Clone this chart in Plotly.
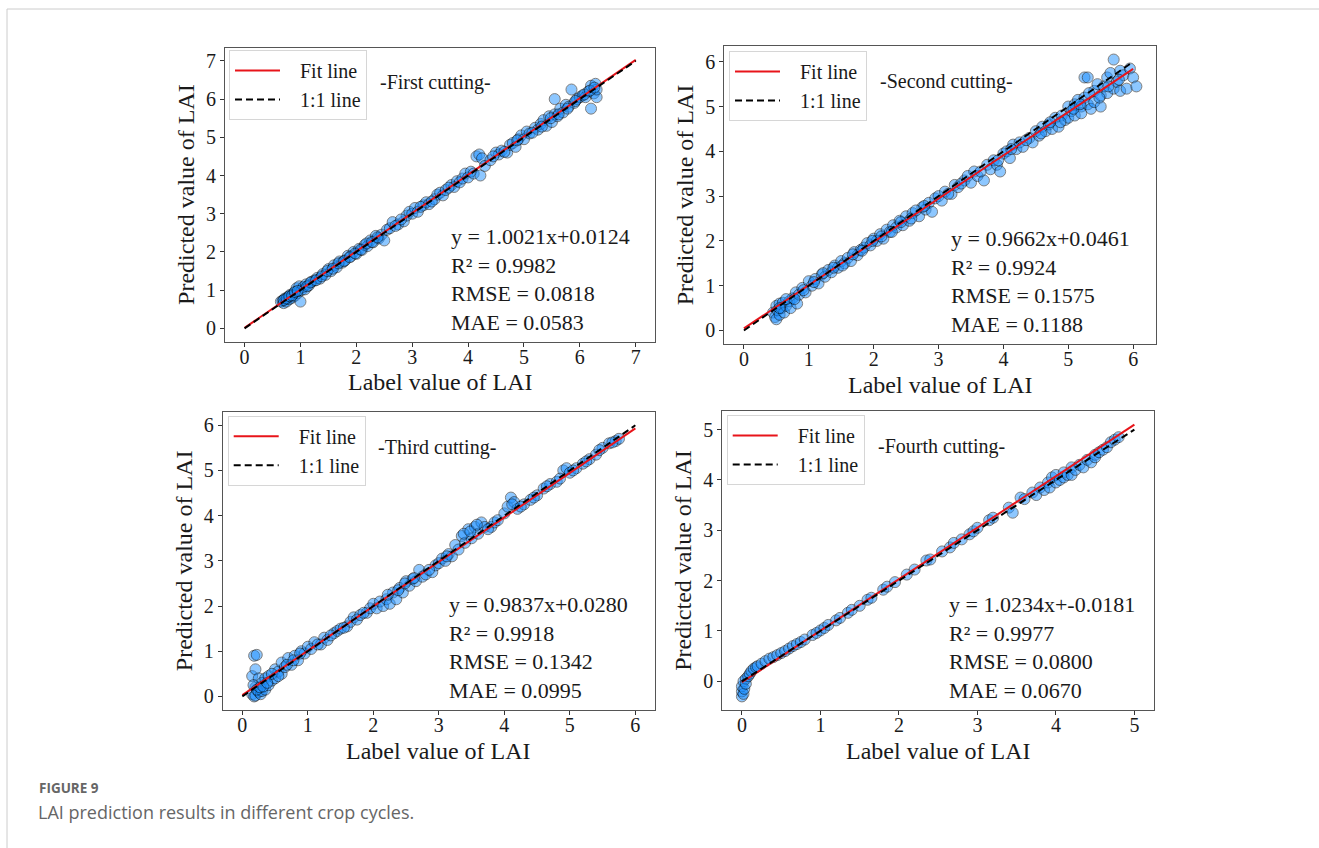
import plotly.graph_objects as go

W, H = 1319, 848

# ---------------- data ----------------
panel_titles = ["-First cutting-", "-Second cutting-", "-Third cutting-", "-Fourth cutting-"]
fit_slope = [1.0021, 0.9662, 0.9837, 1.0234]
fit_intercept = [0.0124, 0.0461, 0.0280, -0.0181]
r2_values = ["0.9982", "0.9924", "0.9918", "0.9977"]
rmse_values = ["0.0818", "0.1575", "0.1342", "0.0800"]
mae_values = ["0.0583", "0.1188", "0.0995", "0.0670"]
eq_texts = ["y = 1.0021x+0.0124", "y = 0.9662x+0.0461", "y = 0.9837x+0.0280", "y = 1.0234x+-0.0181"]
line_end = [7, 6, 6, 5]
x_ticks = [[0, 1, 2, 3, 4, 5, 6, 7], [0, 1, 2, 3, 4, 5, 6], [0, 1, 2, 3, 4, 5, 6], [0, 1, 2, 3, 4, 5]]
y_ticks = [[0, 1, 2, 3, 4, 5, 6, 7], [0, 1, 2, 3, 4, 5, 6], [0, 1, 2, 3, 4, 5, 6], [0, 1, 2, 3, 4, 5]]

label_1 = [0.65,0.68,0.70,0.72,0.75,0.78,0.80,0.82,0.85,0.88,0.90,0.93,0.95,0.98,1.00,1.02,1.05,1.08,1.10,1.15,
           1.20,1.25,1.30,1.35,1.40,1.45,1.50,1.55,1.60,1.65,1.70,1.75,1.80,1.85,1.90,1.95,2.00,2.05,2.10,2.15,
           2.20,2.25,2.30,2.35,2.40,2.45,2.50,2.55,2.60,2.65,2.75,2.85,2.90,2.95,3.00,3.05,3.10,3.20,3.25,3.30,
           3.40,3.45,3.50,3.55,3.60,3.70,3.75,3.80,3.85,3.90,3.95,4.00,4.05,4.10,4.15,4.20,4.22,4.25,4.30,4.40,
           4.50,4.55,4.60,4.70,4.75,4.80,4.85,4.90,4.95,5.00,5.05,5.10,5.20,5.25,5.30,5.35,5.40,5.45,5.50,5.55,
           5.55,5.60,5.65,5.70,5.75,5.80,5.85,5.90,5.95,6.00,6.05,6.10,6.15,6.20,6.20,6.25,6.28,6.30,6.30,
           0.70,0.75,0.80,0.85,0.90,0.95,1.12,1.18,1.28,1.38,1.48,1.58,1.68,1.78,1.88,1.98,2.08,2.18,2.28,2.38,
           2.70,2.80,3.15,3.35,3.65,4.45,4.65,4.88,5.15,5.32,5.48,5.62,5.78,5.92,6.08,6.18,6.26]
pred_1 = [0.70,0.72,0.66,0.78,0.70,0.82,0.76,0.88,0.80,0.92,0.85,1.05,0.92,1.10,0.70,1.00,1.08,1.02,1.15,1.12,
          1.22,1.25,1.32,1.30,1.42,1.40,1.55,1.50,1.65,1.60,1.75,1.72,1.78,1.90,1.88,2.00,1.95,2.08,2.05,2.18,
          2.15,2.30,2.25,2.42,2.35,2.45,2.30,2.58,2.62,2.78,2.72,2.80,2.95,3.05,3.00,3.15,3.05,3.22,3.30,3.25,
          3.38,3.50,3.55,3.48,3.62,3.75,3.70,3.85,3.82,3.92,4.05,3.95,4.10,4.05,4.50,4.55,4.00,4.45,4.25,4.40,
          4.60,4.55,4.65,4.60,4.80,4.85,4.75,4.95,5.05,4.95,5.15,5.10,5.25,5.20,5.35,5.45,5.30,5.55,5.40,5.60,
          6.00,5.55,5.75,5.65,5.85,5.80,6.25,5.90,6.00,6.05,6.10,6.05,6.20,5.75,6.35,6.15,6.40,6.05,6.25,
          0.74,0.78,0.84,0.86,0.95,0.98,1.10,1.20,1.26,1.36,1.50,1.56,1.70,1.76,1.86,1.96,2.06,2.22,2.26,2.38,
          2.68,2.85,3.18,3.32,3.68,4.50,4.62,4.92,5.12,5.28,5.50,5.60,5.75,5.95,6.12,6.22,6.30]

label_2 = [0.45,0.48,0.50,0.50,0.52,0.55,0.55,0.58,0.60,0.62,0.65,0.70,0.72,0.75,0.80,0.82,0.85,0.90,0.95,1.00,
           1.05,1.10,1.15,1.20,1.25,1.30,1.35,1.40,1.45,1.50,1.55,1.60,1.65,1.70,1.75,1.80,1.85,1.90,1.95,2.00,
           2.05,2.10,2.15,2.20,2.25,2.30,2.35,2.40,2.45,2.50,2.55,2.60,2.70,2.75,2.80,2.85,2.90,2.95,3.00,3.05,
           3.10,3.20,3.25,3.30,3.40,3.45,3.50,3.55,3.60,3.70,3.75,3.80,3.85,3.90,3.95,4.00,4.05,4.10,4.15,4.20,
           4.25,4.30,4.40,4.45,4.50,4.55,4.60,4.65,4.70,4.75,4.80,4.85,4.90,4.95,5.00,5.00,5.05,5.10,5.10,5.15,
           5.20,5.20,5.25,5.25,5.30,5.30,5.35,5.40,5.40,5.45,5.50,5.50,5.55,5.60,5.60,5.65,5.70,5.70,5.75,5.80,
           5.80,5.85,5.90,5.95,6.00,6.05,
           0.55,0.65,0.78,0.92,1.08,1.22,1.38,1.52,1.68,1.82,1.98,2.12,2.28,2.42,2.58,2.65,2.78,3.15,3.35,3.65,
           3.92,4.12,4.35,4.58,4.72,4.88,5.08,5.18,5.32,5.48,5.62,5.78]
pred_2 = [0.40,0.30,0.55,0.25,0.45,0.60,0.35,0.50,0.62,0.40,0.55,0.65,0.50,0.72,0.85,0.60,0.80,0.95,0.85,1.10,
          1.00,1.15,1.05,1.25,1.20,1.35,1.30,1.45,1.40,1.55,1.50,1.62,1.55,1.75,1.68,1.80,1.85,1.95,1.90,2.05,
          2.00,2.15,2.05,2.25,2.20,2.35,2.30,2.45,2.35,2.55,2.45,2.62,2.55,2.75,2.70,2.85,2.65,2.95,3.00,2.90,
          3.10,3.05,3.25,3.20,3.35,3.45,3.30,3.55,3.45,3.35,3.70,3.60,3.80,3.70,3.55,3.95,4.00,3.85,4.15,4.05,
          4.20,4.10,4.30,4.20,4.45,4.35,4.55,4.45,4.60,4.50,4.75,4.55,4.80,4.70,5.00,4.75,4.90,5.05,4.80,5.15,
          5.00,4.85,5.65,5.20,5.05,5.65,4.95,5.35,5.10,5.50,5.25,5.00,5.45,5.65,5.30,5.75,6.05,5.40,5.55,5.80,
          5.35,5.70,5.40,5.85,5.65,5.45,
          0.50,0.70,0.70,0.90,1.08,1.28,1.40,1.45,1.70,1.78,2.00,2.10,2.20,2.42,2.50,2.68,2.78,3.05,3.28,3.55,
          3.80,4.05,4.25,4.40,4.65,4.65,4.95,5.05,5.30,5.20,5.45,5.60]

label_3 = [0.15,0.15,0.18,0.18,0.20,0.20,0.20,0.22,0.25,0.25,0.28,0.30,0.30,0.35,0.35,0.40,0.40,0.45,0.50,0.50,
           0.55,0.60,0.60,0.65,0.70,0.75,0.80,0.85,0.90,0.95,1.00,1.05,1.10,1.20,1.25,1.30,1.40,1.45,1.50,1.60,
           1.65,1.70,1.75,1.80,1.90,1.95,2.00,2.05,2.10,2.15,2.20,2.25,2.30,2.35,2.40,2.45,2.50,2.55,2.60,2.65,
           2.70,2.75,2.80,2.90,2.95,3.00,3.05,3.10,3.15,3.20,3.25,3.30,3.35,3.40,3.45,3.50,3.55,3.60,3.65,3.70,
           3.80,3.85,3.90,4.00,4.05,4.10,4.15,4.20,4.30,4.40,4.50,4.60,4.70,4.80,4.90,4.95,5.00,5.10,5.20,5.30,
           5.40,5.50,5.60,5.70,5.75,
           0.17,0.22,0.27,0.32,0.38,0.45,0.55,0.68,0.78,0.88,1.15,1.35,1.55,1.85,2.22,2.38,2.48,2.62,2.85,3.12,
           3.38,3.48,3.58,3.75,4.12,4.25,4.45,4.65,4.85,5.05,5.25,5.45,5.65]
pred_3 = [0.45,0.05,0.90,0.00,0.60,0.20,0.02,0.92,0.40,0.10,0.05,0.30,0.12,0.40,0.15,0.45,0.25,0.35,0.60,0.40,
          0.55,0.75,0.50,0.65,0.85,0.70,0.90,0.80,1.00,0.95,1.10,1.05,1.20,1.15,1.30,1.25,1.40,1.45,1.50,1.55,
          1.65,1.75,1.70,1.80,1.85,1.95,2.05,1.95,2.10,2.00,2.15,2.05,2.30,2.15,2.40,2.30,2.55,2.45,2.60,2.55,
          2.80,2.65,2.70,2.75,2.90,2.95,3.05,3.00,3.15,3.10,3.35,3.25,3.55,3.40,3.70,3.50,3.75,3.60,3.85,3.75,
          3.75,3.85,3.90,4.05,4.20,4.40,4.30,4.15,4.25,4.35,4.45,4.60,4.70,4.75,5.00,5.05,4.95,5.05,5.15,5.25,
          5.35,5.50,5.60,5.65,5.70,
          0.25,0.15,0.20,0.22,0.30,0.50,0.45,0.70,0.80,0.95,1.15,1.35,1.52,1.85,2.25,2.35,2.50,2.62,2.80,3.10,
          3.60,3.65,3.80,3.70,4.25,4.20,4.40,4.65,4.82,5.00,5.20,5.45,5.62]

label_4 = [0.00,0.00,0.00,0.02,0.02,0.03,0.05,0.05,0.08,0.10,0.12,0.15,0.18,0.20,0.25,0.30,0.35,0.40,0.45,0.50,
           0.55,0.60,0.65,0.70,0.75,0.80,0.90,0.95,1.00,1.05,1.10,1.20,1.25,1.35,1.40,1.50,1.60,1.65,1.80,1.85,
           1.95,2.10,2.20,2.35,2.40,2.55,2.65,2.70,2.80,2.90,2.95,3.00,3.15,3.20,3.40,3.45,3.55,3.60,3.70,3.75,
           3.80,3.85,3.90,3.92,3.95,4.00,4.00,4.05,4.10,4.10,4.15,4.20,4.20,4.25,4.30,4.35,4.40,4.45,4.50,4.50,
           4.55,4.60,4.65,4.70,4.75,4.80]
pred_4 = [-0.30,-0.20,-0.10,-0.25,0.00,-0.15,0.05,-0.05,0.10,0.15,0.20,0.25,0.28,0.30,0.35,0.40,0.45,0.48,0.52,0.56,
          0.60,0.65,0.70,0.74,0.78,0.83,0.92,0.96,1.01,1.06,1.12,1.21,1.26,1.36,1.42,1.50,1.62,1.66,1.82,1.88,
          1.97,2.12,2.22,2.40,2.42,2.58,2.66,2.75,2.82,2.92,2.98,3.05,3.20,3.25,3.45,3.35,3.65,3.62,3.75,3.70,
          3.85,3.80,3.95,3.85,4.05,3.95,4.10,4.00,4.15,4.05,4.10,4.25,4.10,4.20,4.30,4.25,4.40,4.35,4.50,4.45,
          4.55,4.60,4.65,4.75,4.80,4.85]

labels = [label_1, label_2, label_3, label_4]
preds = [pred_1, pred_2, pred_3, pred_4]

# ---------------- layout geometry ----------------
def px_x(a, b):
    return [a / W, b / W]

def px_y(top, bottom):
    return [1 - bottom / H, 1 - top / H]

x_domains = [px_x(225, 655.3), px_x(724.3, 1156), px_x(222.7, 655), px_x(722.3, 1154)]
y_domains = [px_y(47.5, 341.7), px_y(46, 344), px_y(411.7, 710), px_y(411, 710)]
x_ranges = [[-0.35, 7.35], [-0.3025, 6.3525], [-0.30, 6.30], [-0.25, 5.25]]
y_ranges = [[-0.35, 7.35], [-0.3025, 6.3525], [-0.30, 6.30], [-0.57, 5.37]]
legend_pos = [(229, 50), (729, 51), (227.7, 415.7), (726.7, 415)]

SERIF = "Liberation Serif"
fig = go.Figure()

layout = dict(
    width=W, height=H,
    margin=dict(l=0, r=0, t=0, b=0),
    paper_bgcolor="white", plot_bgcolor="white",
    font=dict(family=SERIF, color="#1a1a1a", size=20),
    annotations=[], shapes=[],
)

for i in range(4):
    n = i + 1
    xa = "x" if n == 1 else f"x{n}"
    ya = "y" if n == 1 else f"y{n}"
    lg = "legend" if n == 1 else f"legend{n}"

    fig.add_trace(go.Scatter(
        x=labels[i], y=preds[i], mode="markers", xaxis=xa, yaxis=ya,
        showlegend=False,
        marker=dict(size=11, color="#1E90FF", opacity=0.5,
                    line=dict(color="black", width=1)),
    ))
    xs = [0, line_end[i]]
    fig.add_trace(go.Scatter(
        x=xs, y=[fit_slope[i] * v + fit_intercept[i] for v in xs],
        mode="lines", xaxis=xa, yaxis=ya, name="\u2002\u2005Fit line", legend=lg,
        legendgroup=f"fit{n}",
        line=dict(color="#e8141a", width=2),
    ))
    fig.add_trace(go.Scatter(
        x=xs, y=xs, mode="lines", xaxis=xa, yaxis=ya, name="\u2002\u20051:1 line", legend=lg,
        legendgroup=f"one{n}",
        line=dict(color="black", width=2, dash="7px,4px"),
    ))

    axis_common = dict(
        showline=True, linecolor="#555", linewidth=1, mirror=True,
        showgrid=False, zeroline=False,
        ticks="outside", ticklen=4, tickwidth=1, tickcolor="#333",
        tickfont=dict(family=SERIF, size=20, color="#1a1a1a"),
    )
    layout["xaxis" if n == 1 else f"xaxis{n}"] = dict(
        axis_common, domain=x_domains[i], range=x_ranges[i], anchor=ya,
        tickvals=x_ticks[i], ticklabelstandoff=-7,
    )
    layout["yaxis" if n == 1 else f"yaxis{n}"] = dict(
        axis_common, domain=y_domains[i], range=y_ranges[i], anchor=xa,
        tickvals=y_ticks[i],
        title=dict(text="Predicted value of LAI", font=dict(family=SERIF, size=24), standoff=4),
    )
    layout["annotations"].append(dict(
        xref=f"{xa} domain", yref=f"{ya} domain", x=0.5, y=-0.138,
        xanchor="center", yanchor="middle", showarrow=False,
        text="Label value of LAI", font=dict(family=SERIF, size=24, color="#1a1a1a"),
    ))
    lx, ly = legend_pos[i]
    layout[lg] = dict(
        x=lx / W, y=1 - ly / H, xanchor="left", yanchor="top",
        bgcolor="rgba(255,255,255,0.85)", bordercolor="#d6d6d6", borderwidth=1,
        font=dict(family=SERIF, size=20, color="#1a1a1a"),
        tracegroupgap=0, itemwidth=45,
    )
    layout["annotations"].append(dict(
        xref=f"{xa} domain", yref=f"{ya} domain", x=0.355, y=0.88,
        xanchor="left", yanchor="middle", showarrow=False,
        text=panel_titles[i], font=dict(family=SERIF, size=20, color="#1a1a1a"),
    ))
    layout["annotations"].append(dict(
        xref=f"{xa} domain", yref=f"{ya} domain", x=0.52, y=0.21,
        xanchor="left", yanchor="middle", showarrow=False, align="left",
        text=f"{eq_texts[i]}<br>R² = {r2_values[i]}<br>RMSE = {rmse_values[i]}<br>MAE = {mae_values[i]}",
        font=dict(family=SERIF, size=22, color="#1a1a1a"),
    ))

# caption and frame
layout["annotations"].append(dict(
    xref="paper", yref="paper", x=37 / W, y=1 - 788 / H, xanchor="left", yanchor="middle",
    showarrow=False, text="<b>FIGURE 9</b>",
    font=dict(family="Open Sans", size=13.5, color="#666666"),
))
layout["annotations"].append(dict(
    xref="paper", yref="paper", x=36 / W, y=1 - 812 / H, xanchor="left", yanchor="middle",
    showarrow=False, text="LAI prediction results in different crop cycles.",
    font=dict(family="Open Sans", size=18, color="#666666"),
))
layout["shapes"] += [
    dict(type="line", xref="paper", yref="paper", x0=7 / W, x1=1, y0=1 - 9 / H, y1=1 - 9 / H,
         line=dict(color="#cccccc", width=1)),
    dict(type="line", xref="paper", yref="paper", x0=7 / W, x1=7 / W, y0=0, y1=1 - 9 / H,
         line=dict(color="#cccccc", width=1)),
]

fig.update_layout(**layout)
fig.write_html("out.html")
